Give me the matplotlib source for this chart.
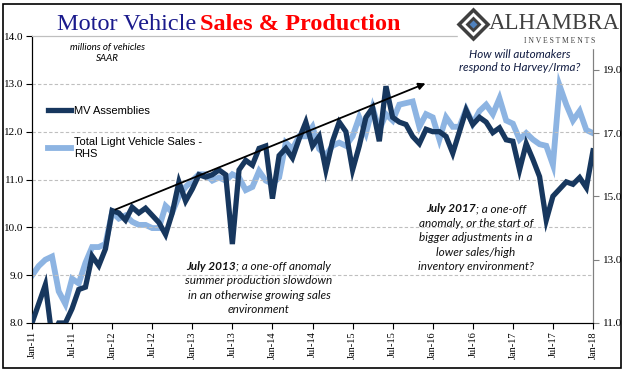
import numpy as np
import pandas as pd
import matplotlib
matplotlib.use("Agg")
import matplotlib.pyplot as plt
import matplotlib.ticker as mticker

# Monthly data Jan-11 .. Jan-18 (millions of vehicles, SAAR)
months = pd.date_range("2011-01-01", "2018-01-01", freq="MS")

mv_assemblies = [
    8.0, 8.4, 8.8, 7.7, 8.0, 8.0, 8.3, 8.7, 8.75, 9.4, 9.2, 9.55,
    10.35, 10.3, 10.15, 10.42, 10.3, 10.4, 10.25, 10.1, 9.85, 10.3, 10.95, 10.55,
    10.8, 11.1, 11.05, 11.1, 11.2, 11.1, 9.65, 11.2, 11.4, 11.3, 11.65, 11.7,
    10.6, 11.5, 11.65, 11.45, 11.85, 12.2, 11.7, 11.9, 11.2, 11.8, 12.2, 12.0,
    11.2, 11.7, 12.3, 12.5, 11.8, 12.95, 12.3, 12.2, 12.15, 11.9, 11.75, 12.05,
    12.0, 12.0, 11.9, 11.55, 12.0, 12.45, 12.15, 12.3, 12.2, 11.98, 12.08, 11.83,
    11.8, 11.2, 11.75, 11.42, 11.06, 10.15, 10.65, 10.8, 10.95, 10.9, 11.04, 10.83,
    11.6,
]

light_sales = [
    12.5, 12.8, 13.0, 13.1, 12.0, 11.6, 12.4, 12.25, 12.9, 13.4, 13.4, 13.5,
    14.5, 14.3, 14.4, 14.2, 14.1, 14.1, 14.0, 14.0, 14.7, 14.5, 15.0, 15.3,
    15.5, 15.7, 15.7, 15.5, 15.6, 15.5, 15.7, 15.6, 15.2, 15.3, 15.8, 15.5,
    15.4, 15.6, 16.7, 16.5, 16.9, 16.9, 17.2, 16.5, 16.3, 16.6, 16.7, 16.6,
    16.9, 17.5, 17.0, 17.8, 17.1, 17.6, 17.4, 17.9, 17.95, 18.0, 17.2, 17.6,
    17.5, 16.8, 17.5, 17.2, 17.2, 17.75, 17.3, 17.7, 17.9, 17.6, 18.1, 17.4,
    17.3, 16.8, 17.0, 16.8, 16.65, 16.6, 16.0, 18.5, 17.9, 17.4, 17.7, 17.1,
    17.0,
]

tick_labels = ["Jan-11", "Jul-11", "Jan-12", "Jul-12", "Jan-13", "Jul-13", "Jan-14",
               "Jul-14", "Jan-15", "Jul-15", "Jan-16", "Jul-16", "Jan-17", "Jul-17", "Jan-18"]

note_2013 = ["July 2013", "; a one-off anomaly", "summer production slowdown",
             "in an otherwise growing sales", "environment"]
note_2017 = ["July 2017", "; a one-off", "anomaly, or the start of", "bigger adjustments in a",
             "lower sales/high", "inventory environment?"]

dark = "#17375E"
light = "#8DB4E2"
serif = "Liberation Serif"
note_font = "Lato"

x = np.arange(len(months))

fig = plt.figure(figsize=(6.41, 3.75), dpi=100)
ax = fig.add_axes([32 / 641, 1 - 323 / 375, (593 - 32) / 641, (323 - 36) / 375])
ax2 = ax.twinx()

ax2.plot(x, light_sales, color=light, lw=4.2, solid_joinstyle="miter", zorder=2)
ax.plot(x, mv_assemblies, color=dark, lw=3.8, solid_joinstyle="miter", zorder=3)
ax.set_zorder(ax2.get_zorder() + 1)
ax.patch.set_visible(False)

ax.set_xlim(0, len(x) - 1)
ax.set_ylim(8, 14)
ax2.set_ylim(11, 20.07)
ax.yaxis.set_major_locator(mticker.MultipleLocator(1))
ax.yaxis.set_major_formatter(mticker.FormatStrFormatter("%.1f"))
ax2.set_yticks([11, 13, 15, 17, 19])
ax2.yaxis.set_major_formatter(mticker.FormatStrFormatter("%.1f"))
ax.set_xticks(x[::6])
ax.set_xticklabels(tick_labels, rotation=90, fontfamily=serif, fontsize=7.5)

for t in ax.get_yticklabels() + ax2.get_yticklabels():
    t.set_fontfamily(serif)
    t.set_fontsize(8)
ax.tick_params(axis="both", direction="out", length=4, width=0.8, pad=2)
ax2.tick_params(axis="y", direction="out", length=4, width=0.8, color="#808080", pad=3)

for v in [9, 10, 11, 12, 13]:
    ax.axhline(v, color="#BFBFBF", lw=0.8, ls=(0, (3, 2)), zorder=0)

for a in (ax, ax2):
    a.spines["top"].set_color("#BFBFBF")
    a.spines["top"].set_linewidth(0.8)
    a.spines["right"].set_color("#808080")
    a.spines["left"].set_color("black")
    a.spines["bottom"].set_color("black")

# trend arrow
ax.annotate("", xy=(59.3, 13.03), xytext=(12.1, 10.35),
            arrowprops=dict(arrowstyle="-|>", color="black", lw=1.3, mutation_scale=10),
            zorder=5)

# legend
ax.plot([], [], color=dark, lw=3.8, label="MV Assemblies")
ax.plot([], [], color=light, lw=4.2, label="Total Light Vehicle Sales -\nRHS")
leg = ax.legend(loc="upper left", bbox_to_anchor=(0.01, 0.79), frameon=False,
                prop={"family": "Liberation Sans", "size": 8}, handlelength=2.1,
                labelspacing=1.9, handletextpad=0.3)

# notes
ax.text(0.135, 0.975, "millions of vehicles\nSAAR", transform=ax.transAxes, ha="center",
        va="top", fontsize=7, style="italic", fontfamily=note_font, linespacing=1.2)
ax.text(0.87, 0.955, "How will automakers\nrespond to Harvey/Irma?", transform=ax.transAxes,
        ha="center", va="top", fontsize=8.4, style="italic", fontfamily=note_font,
        color="#0F1A40", linespacing=1.25)

renderer = fig.canvas.get_renderer()


def note_block(lines, xc, ytop, size, step):
    # first line: bold lead + normal rest, other lines plain, all centred at xc (pixels)
    kw = dict(fontsize=size, style="italic", fontfamily=note_font, va="baseline",
              color="#111111", transform=None)
    b = fig.text(0, 0, lines[0], fontweight="bold", **kw)
    r = fig.text(0, 0, lines[1], **kw)
    wb = b.get_window_extent(renderer).width
    wr = r.get_window_extent(renderer).width
    y0 = 375 - ytop
    left = xc - (wb + wr) / 2
    b.set_position((left, y0))
    r.set_position((left + wb, y0))
    for k, line in enumerate(lines[2:], start=1):
        fig.text(xc, y0 - k * step, line, ha="center", **kw)


note_block(note_2013, 259, 270, 8.5, 14.3)
note_block(note_2017, 476, 212, 8.5, 14.6)

# title
fig.text(196 / 641, 1 - 30 / 375, "Motor Vehicle", ha="right", va="baseline",
         fontfamily=serif, fontsize=17.5, color="#1A1A8C")
fig.text(200 / 641, 1 - 30 / 375, "Sales & Production", ha="left", va="baseline",
         fontfamily=serif, fontsize=17.5, color="#FF0000", fontweight="bold")

# logo
fig.patches.append(plt.Rectangle((458 / 641, 1 - 48 / 375), 165 / 641, 44 / 375,
                                 transform=fig.transFigure, color="white", zorder=3))
fig.text(489 / 641, 1 - 29 / 375, "ALHAMBRA", ha="left", va="baseline", fontfamily=serif,
         fontsize=16.5, color="#404040", zorder=4)
fig.text(560 / 641, 1 - 43 / 375, "I N V E S T M E N T S", ha="center", va="baseline",
         fontfamily=serif, fontsize=5.5, color="#404040", zorder=4)
cx, cy = 473 / 641, 1 - 24 / 375
for size, col in [(17, "#404040"), (12, "white"), (8, "#404040"), (4, "#4F81BD")]:
    fig.add_artist(plt.Line2D([cx], [cy], transform=fig.transFigure, marker="D",
                              markersize=size, color=col, mec="none", zorder=4))

# outer border
fig.patches.append(plt.Rectangle((3 / 641, 1 - 368 / 375), 618 / 641, 364 / 375,
                                 transform=fig.transFigure, fill=False, ec="black", lw=1.2,
                                 zorder=10))

fig.savefig("out.png", dpi=100)
